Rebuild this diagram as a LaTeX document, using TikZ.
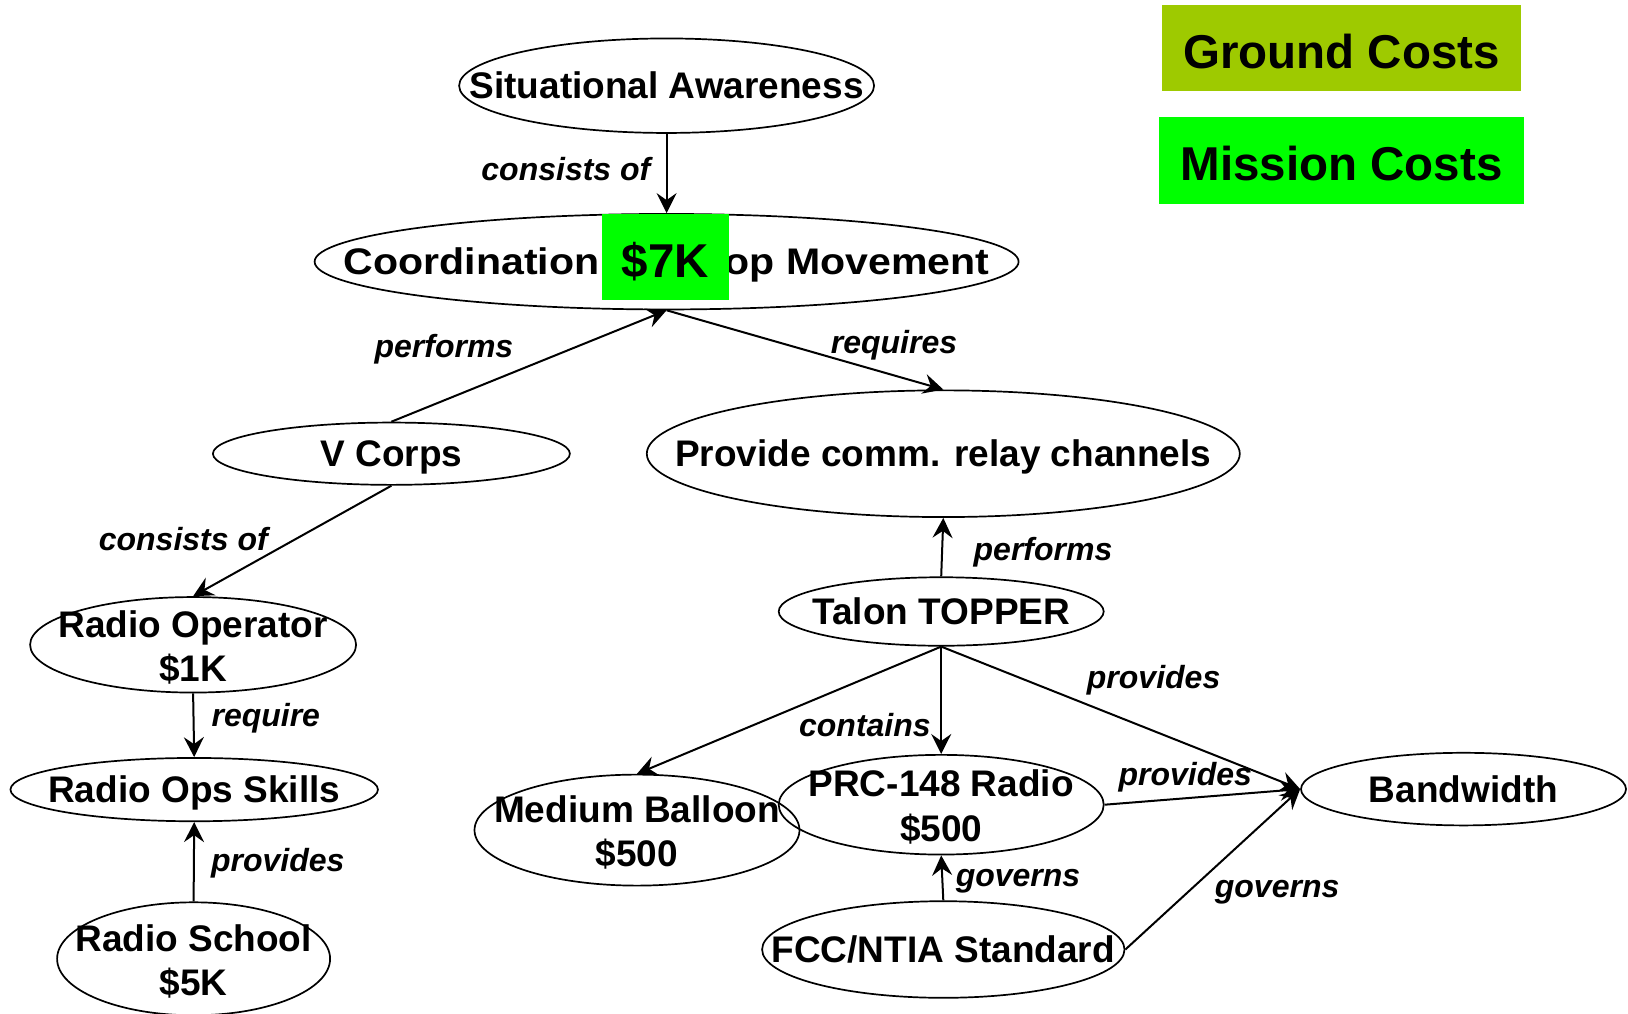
\documentclass[tikz,border=0pt]{standalone}
\usepackage{fontspec}
\usepackage{graphicx}
\setmainfont{Liberation Sans}
\usetikzlibrary{shapes.geometric,arrows.meta}
\definecolor{groundc}{RGB}{158,202,0}
\definecolor{missionc}{RGB}{0,255,0}
\begin{document}
\begin{tikzpicture}[x=1pt,y=-1pt,
  concept/.style={ellipse,draw,line width=1.7pt,inner sep=0pt},
  ctext/.style={inner sep=0pt,font=\fontsize{37}{44.5}\selectfont\bfseries,align=center},
  twoline/.style={yshift=-2.5pt},
  oneline/.style={text height=26.5pt,text depth=0pt},
  lbl/.style={font=\fontsize{32}{38}\selectfont\bfseries\itshape,inner sep=0pt,text height=23pt,text depth=0pt},
  link/.style={line width=2pt,-{Stealth[length=20pt,width=20pt,inset=7pt]}},
  cost/.style={font=\fontsize{47.5}{56}\selectfont\bfseries,inner sep=0pt,text height=41pt,text depth=0pt}]
\useasboundingbox (0,0) rectangle (1628,1013);

% concept ellipses
\node[concept,minimum width=415pt,minimum height=94.5pt] (sa) at (666.6,85.7) {};
\node[concept,minimum width=704pt,minimum height=95.5pt] (coord) at (666.6,261.7) {};
\node[concept,minimum width=357pt,minimum height=62.3pt] (vc) at (391.4,453.7) {};
\node[concept,minimum width=593pt,minimum height=126.7pt] (prov) at (943.3,453.7) {};
\node[concept,minimum width=326pt,minimum height=95.5pt] (rop) at (193.1,644.8) {};
\node[concept,minimum width=367.5pt,minimum height=63.3pt] (rsk) at (194.2,789.6) {};
\node[concept,minimum width=273pt,minimum height=113pt] (rsc) at (193.6,958.8) {};
\node[concept,minimum width=325pt,minimum height=68.5pt] (tal) at (941.2,611.5) {};
\node[concept,minimum width=325pt,minimum height=111pt] (bal) at (637,830.1) {};
\node[concept,minimum width=325pt,minimum height=99.7pt] (prc) at (941.2,804.7) {};
\node[concept,minimum width=325pt,minimum height=72.6pt] (bw) at (1463.5,789.1) {};
\node[concept,minimum width=362.4pt,minimum height=96.6pt] (fcc) at (943.3,949.5) {};

% concept texts
\node[ctext,oneline] (sa-t) at (sa.center) {Situational Awareness};
\node[ctext,oneline] (coord-t) at (coord.center) {\scalebox{1.11}[1]{Coordination of Troop Movement}};
\node[ctext,oneline] (vc-t) at (vc.center) {V Corps};
\node[ctext,oneline] (prov-t) at (prov.center) {Provide comm. relay channels};
\node[ctext,twoline] (rop-t) at (rop.center) {Radio Operator\\\$1K};
\node[ctext,oneline] (rsk-t) at (rsk.center) {Radio Ops Skills};
\node[ctext,twoline] (rsc-t) at (rsc.center) {Radio School\\\$5K};
\node[ctext,oneline] (tal-t) at (tal.center) {Talon TOPPER};
\node[ctext,twoline] (bal-t) at (bal.center) {Medium Balloon\\\$500};
\node[ctext,twoline] (prc-t) at (prc.center) {PRC-148 Radio\\\$500};
\node[ctext,oneline] (bw-t) at (bw.center) {Bandwidth};
\node[ctext,oneline] (fcc-t) at (fcc.center) {FCC/NTIA Standard};

% connectors
\draw[link] (sa.south) -- (coord.north);
\draw[link] (vc.north) -- (coord.south);
\draw[link] (coord.south) -- (prov.north);
\draw[link] (vc.south) -- (rop.north);
\draw[link] (rop.south) -- (rsk.north);
\draw[link] (rsc.north) -- (rsk.south);
\draw[link] (tal.north) -- (prov.south);
\draw[link] (tal.south) -- (bal.north);
\draw[link] (tal.south) -- (prc.north);
\draw[link] (tal.south) -- (bw.west);
\draw[link] (prc.east) -- (bw.west);
\draw[link] (fcc.north) -- (prc.south);
\draw[link] (fcc.east) -- (bw.west);

% link labels
\node[lbl] (l1) at (565.9,169.2) {consists of};
\node[lbl] (l2) at (443.9,345.8) {performs};
\node[lbl] (l3) at (894,341.6) {requires};
\node[lbl] (l4) at (183.3,538.9) {consists of};
\node[lbl] (l5) at (265.8,715.4) {require};
\node[lbl] (l6) at (277.7,859.7) {provides};
\node[lbl] (l7) at (1043,549.3) {performs};
\node[lbl] (l8) at (864.9,724.7) {contains};
\node[lbl] (l9) at (1153.6,677) {provides};
\node[lbl] (l10) at (1185.2,773.5) {provides};
\node[lbl] (l11) at (1018,875.3) {governs};
\node[lbl] (l12) at (1277.1,885.7) {governs};

% cost boxes
\node[cost,fill=missionc,minimum width=126.7pt,minimum height=86.2pt] (k7) at (665.5,257) {\$7K};
\node[cost,fill=groundc,minimum width=359.2pt,minimum height=86.2pt] (ground) at (1341.5,48.3) {Ground Costs};
\node[cost,fill=missionc,minimum width=365.5pt,minimum height=86.2pt] (mission) at (1341.5,160.4) {Mission Costs};
\end{tikzpicture}
\end{document}
